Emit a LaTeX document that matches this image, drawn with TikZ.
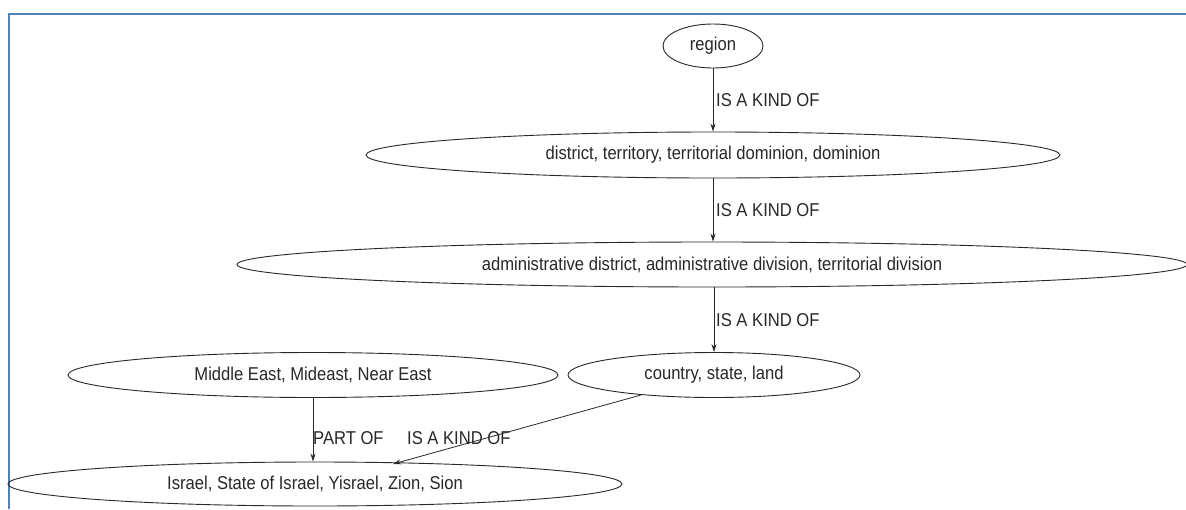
\documentclass[tikz,border=0pt]{standalone}
\usepackage{graphicx}
\usepackage{fontspec}
\setmainfont{Liberation Sans}
\usetikzlibrary{shapes.geometric,arrows.meta}
\definecolor{frameblue}{RGB}{79,129,189}
\definecolor{inkgray}{RGB}{40,40,40}
% slightly condensed, tall lettering
\newcommand{\tallword}[1]{\scalebox{1}[1.12]{#1}}
\begin{document}
\begin{tikzpicture}[x=1pt,y=-1pt,
  concept/.style={ellipse,draw=inkgray,line width=0.9pt,inner sep=0pt,
    font=\fontsize{16.6}{18}\selectfont,text=inkgray},
  link/.style={draw=inkgray,line width=0.8pt,-{Stealth[length=8pt,width=5pt]}},
  rel/.style={font=\fontsize{16.6}{18}\selectfont,text=inkgray,inner sep=0pt,anchor=west}]
\useasboundingbox (0,0) rectangle (1186,509);
\fill[white] (0,0) rectangle (1186,509);
% window frame
\draw[frameblue,line width=2pt] (9,509) -- (9,14) -- (1186,14);

\node[concept,minimum width=100pt,minimum height=44pt] (region) at (713,46) {\tallword{region}};
\node[concept,minimum width=694pt,minimum height=46pt] (district) at (713,155) {\tallword{district, territory, territorial dominion, dominion}};
\node[concept,minimum width=950pt,minimum height=45pt] (admin) at (712,264.5) {\tallword{administrative district, administrative division, territorial division}};
\node[concept,minimum width=292pt,minimum height=45pt] (country) at (714,375) {\tallword{country, state, land}};
\node[concept,minimum width=490pt,minimum height=45pt] (mideast) at (313,375) {\tallword{Middle East, Mideast, Near East}};
\node[concept,minimum width=614pt,minimum height=44pt] (israel) at (315,484) {\tallword{Israel, State of Israel, Yisrael, Zion, Sion}};

% vertical hierarchy links
\draw[link] (region.south) -- (region.south |- district.north);
\draw[link] (district.south) -- (district.south |- admin.north);
\draw[link] (country.north |- admin.south) -- (country.north);
\draw[link] (mideast.south) -- (mideast.south |- israel.north);
% slanted link from country to Israel
\coordinate (c1) at (641,395);
\coordinate (c2) at (393,464);
\draw[link] (c1) -- (c2);

\node[rel] (l1) at (716,100.5) {\tallword{IS A KIND OF}};
\node[rel] (l2) at (716,210.5) {\tallword{IS A KIND OF}};
\node[rel] (l3) at (716,320.5) {\tallword{IS A KIND OF}};
\node[rel] (l4) at (313,438) {\tallword{PART OF}};
\node[rel] (l5) at (407,438) {\tallword{IS A KIND OF}};
\end{tikzpicture}
\end{document}
